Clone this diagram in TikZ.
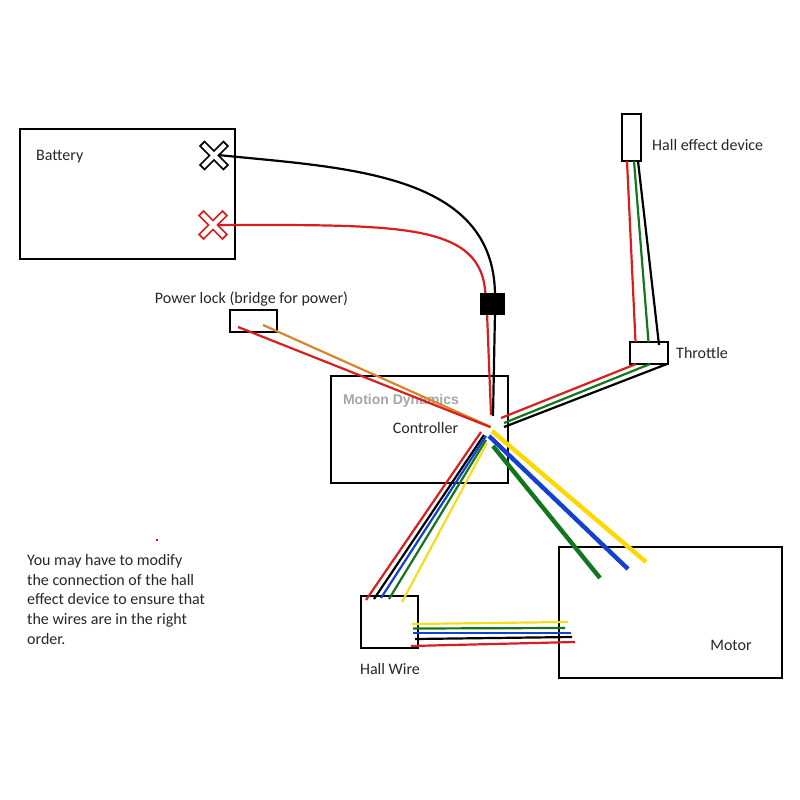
\documentclass[tikz,border=0pt]{standalone}
\usepackage{fontspec}
\setmainfont{Carlito}
\newfontfamily\markfont{Liberation Sans}
\definecolor{wirered}{HTML}{D81E1E}
\definecolor{wiregreen}{HTML}{12761E}
\definecolor{wireblue}{HTML}{1440D2}
\definecolor{wireyellow}{HTML}{F4DC1E}
\definecolor{wireorange}{HTML}{D8842A}
\definecolor{leadyellow}{HTML}{FFD800}
\begin{document}
\begin{tikzpicture}[x=1pt,y=-1pt,
        box/.style={draw=black,line width=2.2pt,inner sep=0pt,fill=none},
        lbl/.style={inner sep=0pt,font=\fontsize{16}{19}\selectfont,text=black!85},
        wire/.style={line width=2.2pt},
        lead/.style={line width=4.4pt},
        terminal/.pic={\draw[rotate=45,line width=1.7pt,fill=white,draw=#1] (-3.2,-16.5) -- (3.2,-16.5) -- (3.2,-3.2) -- (16.5,-3.2) -- (16.5,3.2) -- (3.2,3.2) -- (3.2,16.5) -- (-3.2,16.5) -- (-3.2,3.2) -- (-16.5,3.2) -- (-16.5,-3.2) -- (-3.2,-3.2) -- cycle;}]
        \useasboundingbox (0,0) rectangle (800,800);
        \node[box,minimum width=215pt,minimum height=130pt] (Battery) at (127.5,194) {};
        \node[box,minimum width=19pt,minimum height=47pt] (HallDevice) at (631.5,137.5) {};
        \node[box,minimum width=38pt,minimum height=22pt] (Throttle) at (649,353) {};
        \node[box,minimum width=47pt,minimum height=22pt] (PowerLock) at (253.5,321) {};
        \node[box,minimum width=177pt,minimum height=107pt] (Controller) at (419.5,429.5) {};
        \node[box,minimum width=223pt,minimum height=131pt] (Motor) at (670.5,612.5) {};
        \node[box,minimum width=57pt,minimum height=52pt] (HallWire) at (389.5,622) {};
        \node[lbl,anchor=west] (BatteryText) at (36,157) {Battery};
        \node[lbl,anchor=west] (HallDeviceText) at (652,145) {Hall effect device};
        \node[lbl,anchor=west] (ThrottleText) at (676,353) {Throttle};
        \node[lbl] (PowerLockText) at (251.5,299) {Power lock (bridge for power)};
        \node[lbl] (ControllerText) at (425.5,428) {Controller};
        \node[lbl] (MotorText) at (731,645) {Motor};
        \node[lbl] (HallWireText) at (390,669) {Hall Wire};
        \node[inner sep=0pt,text=black!35,font=\markfont\bfseries\fontsize{14}{16}\selectfont] (Watermark) at (401,400.5) {Motion Dynamics};
        \node[lbl,anchor=north west,align=left,font=\fontsize{16}{19.7}\selectfont] (Note) at (27,554) {You may have to modify\\the connection of the hall\\effect device to ensure that\\the wires are in the right\\order.};
        \node[fill=red,minimum size=2pt,inner sep=0pt] (Speck) at (157,540) {};
        \coordinate (MinusPole) at (214,155.5);
        \coordinate (PlusPole) at (213,225);
        \pic at (MinusPole) {terminal=black};
        \pic at (PlusPole) {terminal=wirered};
        \coordinate (minusFrom) at (218,155);
        \coordinate (plusFrom) at (217,225);
        \coordinate (minusIn) at (495,296);
        \coordinate (plusIn) at (485.5,296);
        \coordinate (minusOut) at (495,312);
        \coordinate (plusOut) at (487,312);
        \coordinate (minusEnd) at (493,416);
        \coordinate (plusEnd) at (491,415);
        \coordinate (lockRed) at (238,327);
        \coordinate (lockOrange) at (263,325);
        \coordinate (lockRedEnd) at (490,427);
        \coordinate (lockOrangeEnd) at (491,427);
        \coordinate (devRed) at (627,161);
        \coordinate (devGreen) at (634,161);
        \coordinate (devBlack) at (638,161);
        \coordinate (thrRedUp) at (635.5,342);
        \coordinate (thrGreenUp) at (648.5,342);
        \coordinate (thrBlackUp) at (659,345);
        \coordinate (thrRed) at (636,364);
        \coordinate (thrGreen) at (650,364);
        \coordinate (thrBlack) at (667,364);
        \coordinate (ctlRed) at (501,418);
        \coordinate (ctlGreen) at (504,423);
        \coordinate (ctlBlack) at (504,427);
        \coordinate (leadYellow) at (492,431);
        \coordinate (leadBlue) at (489,436);
        \coordinate (leadGreen) at (493,446);
        \coordinate (leadYellowEnd) at (646,562);
        \coordinate (leadBlueEnd) at (628,569);
        \coordinate (leadGreenEnd) at (600,578);
        \coordinate (fanRed) at (481,432);
        \coordinate (fanBlack) at (484,435);
        \coordinate (fanBlue) at (486,436);
        \coordinate (fanGreen) at (486,440);
        \coordinate (fanYellow) at (487,443);
        \coordinate (hallRed) at (366,600);
        \coordinate (hallBlack) at (374,599);
        \coordinate (hallBlue) at (381,598);
        \coordinate (hallGreen) at (389,599);
        \coordinate (hallYellow) at (402,602);
        \coordinate (outYellow) at (412,624);
        \coordinate (outGreen) at (413,628.5);
        \coordinate (outBlue) at (413,633);
        \coordinate (outBlack) at (415,639);
        \coordinate (outRed) at (411,646);
        \coordinate (motYellow) at (568,622);
        \coordinate (motGreen) at (565,628);
        \coordinate (motBlue) at (571,633);
        \coordinate (motBlack) at (572,637);
        \coordinate (motRed) at (575,642);
        \draw[wire] (minusFrom) .. controls (345,168) and (495,172) .. (minusIn);
        \draw[wire,wirered] (plusFrom) .. controls (400,225) and (483,222) .. (plusIn);
        \draw[wire,wirered] (plusOut) -- (plusEnd);
        \draw[wire] (minusOut) -- (minusEnd);
        \draw[wire,wireorange] (lockOrange) -- (lockOrangeEnd);
        \draw[wire,wirered] (lockRed) -- (lockRedEnd);
        \draw[wire,wirered] (devRed) -- (thrRedUp);
        \draw[wire,wiregreen] (devGreen) -- (thrGreenUp);
        \draw[wire] (devBlack) -- (thrBlackUp);
        \draw[wire,wirered] (thrRed) -- (ctlRed);
        \draw[wire,wiregreen] (thrGreen) -- (ctlGreen);
        \draw[wire] (thrBlack) -- (ctlBlack);
        \draw[lead,leadyellow] (leadYellow) -- (leadYellowEnd);
        \draw[lead,wireblue] (leadBlue) -- (leadBlueEnd);
        \draw[lead,wiregreen] (leadGreen) -- (leadGreenEnd);
        \draw[wire,wirered] (fanRed) -- (hallRed);
        \draw[wire] (fanBlack) -- (hallBlack);
        \draw[wire,wireblue] (fanBlue) -- (hallBlue);
        \draw[wire,wiregreen] (fanGreen) -- (hallGreen);
        \draw[wire,wireyellow] (fanYellow) -- (hallYellow);
        \draw[wire,wireyellow] (outYellow) -- (motYellow);
        \draw[wire,wiregreen] (outGreen) -- (motGreen);
        \draw[wire,wireblue] (outBlue) -- (motBlue);
        \draw[wire] (outBlack) -- (motBlack);
        \draw[wire,wirered] (outRed) -- (motRed);
        \node[fill=black,minimum width=25pt,minimum height=22pt,inner sep=0pt] (Junction) at (492.5,304) {};
      \end{tikzpicture}
\end{document}
